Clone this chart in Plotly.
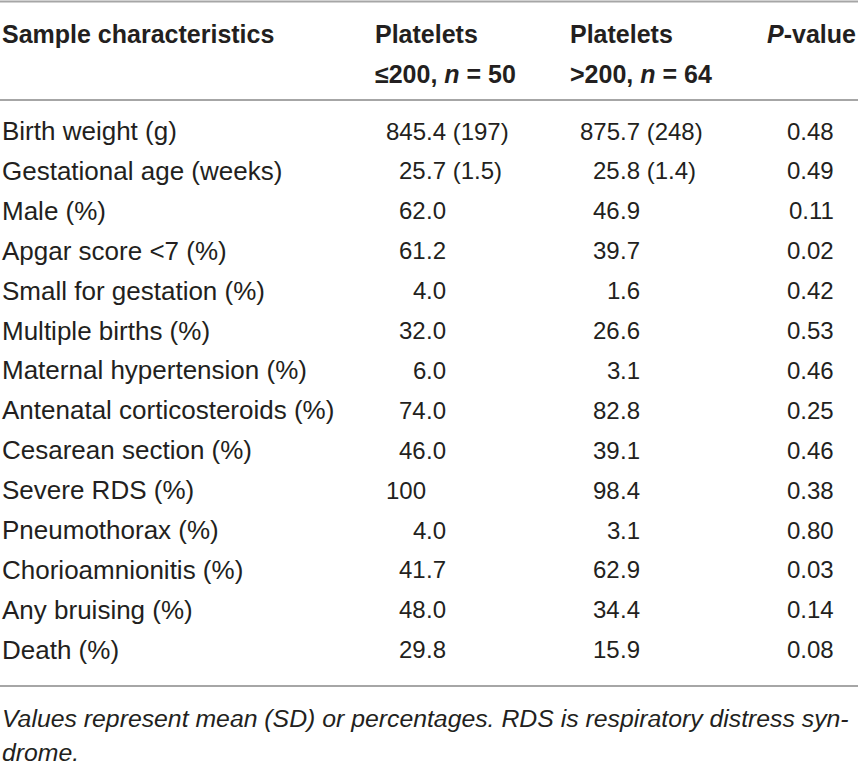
import plotly.graph_objects as go

# ---- data ----
characteristics = [
    "Birth weight (g)", "Gestational age (weeks)", "Male (%)", "Apgar score <7 (%)",
    "Small for gestation (%)", "Multiple births (%)", "Maternal hypertension (%)",
    "Antenatal corticosteroids (%)", "Cesarean section (%)", "Severe RDS (%)",
    "Pneumothorax (%)", "Chorioamnionitis (%)", "Any bruising (%)", "Death (%)",
]
low_platelets = ["845.4 (197)", "25.7 (1.5)", "62.0", "61.2", "4.0", "32.0", "6.0",
                 "74.0", "46.0", "100", "4.0", "41.7", "48.0", "29.8"]
high_platelets = ["875.7 (248)", "25.8 (1.4)", "46.9", "39.7", "1.6", "26.6", "3.1",
                  "82.8", "39.1", "98.4", "3.1", "62.9", "34.4", "15.9"]
p_values = ["0.48", "0.49", "0.11", "0.02", "0.42", "0.53", "0.46",
            "0.25", "0.46", "0.38", "0.80", "0.03", "0.14", "0.08"]
header = ["Sample characteristics", "Platelets", "Platelets", "<i>P</i>-value"]
header2 = ["", "≤200, <i>n</i> = 50", ">200, <i>n</i> = 64", ""]
footnote = ["Values represent mean (SD) or percentages. RDS is respiratory distress syn-",
            "drome."]

W, H = 858, 766
BODY = "Liberation Sans, Arial, Helvetica, sans-serif"
TXT = "#231f20"
LINE = "#a6a6a6"

fig = go.Figure()
fig.add_trace(go.Scatter(x=[0, W], y=[0, H], mode="markers",
                         marker=dict(opacity=0), hoverinfo="skip", showlegend=False))

ann = []
def add(x, y, text, anchor="left", size=24, bold=False, italic=False, family=BODY, color=TXT):
    t = f"<b>{text}</b>" if bold else text
    if italic:
        t = f"<i>{t}</i>"
    ann.append(dict(x=x, y=y, xref="x", yref="y", text=t, showarrow=False,
                    xanchor=anchor, yanchor="middle", borderpad=0, borderwidth=0,
                    font=dict(family=family, size=size, color=color)))

# header
hx = [2, 375, 570, 856]
hanch = ["left", "left", "left", "right"]
for i in range(4):
    add(hx[i], 34, header[i], hanch[i], size=25, bold=True)
    if header2[i]:
        add(hx[i], 74, header2[i], hanch[i], size=25, bold=True)

row0, step = 131, 39.9
dec1, dec2 = 426, 620

def add_decimal(xdec, y, val):
    if "." in val:
        ip, rest = val.split(".", 1)
        add(xdec, y, ip, "right")
        add(xdec, y, "." + rest, "left")
    else:
        add(xdec, y, val, "right")

for i, name in enumerate(characteristics):
    y = row0 + i * step
    add(2, y, name.replace("<", "&lt;"), "left", size=26)
    add_decimal(dec1, y, low_platelets[i])
    add_decimal(dec2, y, high_platelets[i])
    add(834, y, p_values[i], "right")

add(2, 718, footnote[0], "left", size=24.8, italic=True)
add(2, 752, footnote[1], "left", size=24.8, italic=True)

shapes = []
for yl in [1.5, 100, 686]:
    shapes.append(dict(type="line", xref="x", yref="y", x0=0, x1=W, y0=yl, y1=yl,
                       line=dict(color=LINE, width=2)))

fig.update_layout(
    width=W, height=H, margin=dict(l=0, r=0, t=0, b=0),
    paper_bgcolor="white", plot_bgcolor="white",
    xaxis=dict(range=[0, W], visible=False, fixedrange=True),
    yaxis=dict(range=[H, 0], visible=False, fixedrange=True),
    annotations=ann, shapes=shapes, showlegend=False,
)
fig.write_html("out.html", config={"displayModeBar": False},
               post_script="document.body.style.margin='0px';")
